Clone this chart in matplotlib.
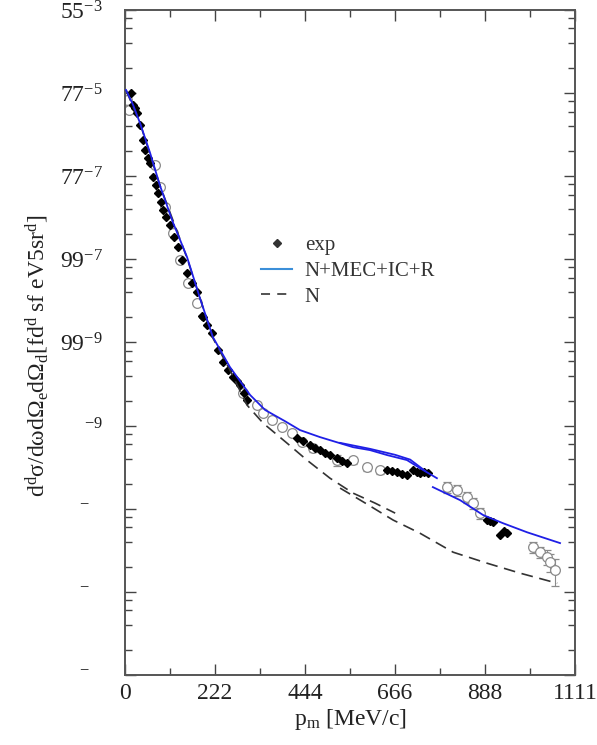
import matplotlib
matplotlib.use("Agg")
import matplotlib.pyplot as plt
from matplotlib.lines import Line2D
from matplotlib.ticker import FixedLocator, FixedFormatter, NullFormatter

plt.rcParams['font.family'] = ['Liberation Serif', 'DejaVu Serif']
plt.rcParams['mathtext.fontset'] = 'custom'
plt.rcParams['mathtext.rm'] = 'Liberation Serif'
plt.rcParams['mathtext.it'] = 'Liberation Serif:italic'

# filled diamonds (exp), several kinematic sets
exp1_x = [15, 20, 25, 30, 37, 44, 49, 57, 62, 69, 77, 82, 89, 94, 101, 111, 121, 131, 141, 153,
          165, 178, 190, 193, 202, 215, 230, 242, 254, 267, 277, 284, 294, 301]
exp1_y = [1.0e-4, 7.2e-5, 6.6e-5, 5.75e-5, 4.1e-5, 2.7e-5, 2.07e-5, 1.65e-5, 1.44e-5, 9.8e-6,
          7.8e-6, 6.3e-6, 4.9e-6, 3.9e-6, 3.23e-6, 2.6e-6, 1.85e-6, 1.4e-6, 9.8e-7, 6.8e-7,
          5.2e-7, 4.0e-7, 2.1e-7, 2.0e-7, 1.62e-7, 1.3e-7, 8.1e-8, 5.8e-8, 4.66e-8, 3.8e-8,
          3.43e-8, 3.07e-8, 2.46e-8, 2.03e-8]
exp2_x = [425, 439, 457, 469, 481, 494, 506, 523, 536, 548]
exp2_y = [7.1e-9, 6.5e-9, 5.8e-9, 5.36e-9, 5.07e-9, 4.67e-9, 4.42e-9, 4.06e-9, 3.74e-9, 3.54e-9]
exp3_x = [647, 659, 672, 684, 696, 711, 721, 728, 738, 748]
exp3_y = [2.92e-9, 2.84e-9, 2.76e-9, 2.61e-9, 2.54e-9, 2.92e-9, 2.76e-9, 2.68e-9, 2.76e-9, 2.68e-9]
exp4_x = [894, 901, 909, 926, 936, 943]
exp4_y = [7.3e-10, 7.1e-10, 6.9e-10, 4.8e-10, 5.4e-10, 5.1e-10]

# open circles (other data sets) with relative errors
open1_x = [5, 10, 74, 86, 99, 118, 136, 156, 178, 291, 326, 341, 363, 388, 412, 437, 464, 523, 563, 597, 630]
open1_y = [8.3e-5, 6.3e-5, 1.36e-5, 7.4e-6, 4.26e-6, 2.07e-6, 9.8e-7, 5.2e-7, 2.98e-7, 2.46e-8, 1.77e-8,
           1.41e-8, 1.16e-8, 9.6e-9, 8.1e-9, 6.3e-9, 5.36e-9, 3.85e-9, 3.85e-9, 3.17e-9, 2.92e-9]
open1_err = [0.05, 0.05, 0.05, 0.05, 0.05, 0.05, 0.05, 0.05, 0.05, 0.08, 0.08,
             0.08, 0.08, 0.08, 0.08, 0.08, 0.1, 0.15, 0.1, 0.1, 0.1]
open2_x = [795, 820, 844, 859, 876]
open2_y = [1.82e-9, 1.67e-9, 1.38e-9, 1.17e-9, 8.85e-10]
open2_err = [0.15, 0.15, 0.15, 0.15, 0.15]
open3_x = [1007, 1025, 1042, 1049, 1062]
open3_y = [3.45e-10, 3.0e-10, 2.62e-10, 2.28e-10, 1.82e-10]
open3_err = [0.15, 0.15, 0.2, 0.25, 0.35]

# N+MEC+IC+R
full1_x = [2.5, 20, 37, 62, 86, 118, 153, 185, 217, 259, 309, 346, 395, 432, 481, 563, 605, 647, 696, 728, 770]
full1_y = [1.09e-4, 7.2e-5, 4.37e-5, 1.9e-5, 7.8e-6, 2.81e-6, 1.07e-6, 3.42e-7, 1.16e-7, 5.06e-8, 2.33e-8,
           1.54e-8, 1.13e-8, 8.83e-9, 7.28e-9, 5.5e-9, 5.07e-9, 4.42e-9, 3.85e-9, 3.08e-9, 2.33e-9]
full2_x = [531, 605, 667, 704, 741]
full2_y = [6.2e-9, 5.25e-9, 4.45e-9, 3.9e-9, 2.85e-9]
full3_x = [760, 827, 884, 933, 993, 1074]
full3_y = [1.82e-9, 1.27e-9, 8.4e-10, 6.7e-10, 5.2e-10, 3.86e-10]

# N only
n1_x = [2.5, 37, 86, 153, 217, 259, 301, 341, 400, 449, 506, 563, 617, 667]
n1_y = [1.09e-4, 4.37e-5, 7.8e-6, 1.04e-6, 1.13e-7, 4.66e-8, 1.77e-8, 1.07e-8, 6.15e-9, 3.85e-9,
        2.33e-9, 1.54e-9, 1.17e-9, 8.85e-10]
n2_x = [531, 593, 662, 728, 810, 894, 975, 1067]
n2_y = [1.77e-9, 1.17e-9, 7.3e-10, 5.08e-10, 3.0e-10, 2.21e-10, 1.68e-10, 1.27e-10]

xticks = [0, 222, 444, 666, 888, 1111]
yticks = [1e-3, 1e-4, 1e-5, 1e-6, 1e-7, 1e-8, 1e-9, 1e-10, 1e-11]
ytick_labels = ['55$^{-3}$', '77$^{-5}$', '77$^{-7}$', '99$^{-7}$', '99$^{-9}$', '$^{-9}$',
                '$^{-}$   ', '$^{-}$   ', '$^{-}$   ']

fig = plt.figure(figsize=(5.97, 7.45), dpi=100)
ax = fig.add_axes([0.2094, 0.094, 0.7538, 0.8926])
ax.set_yscale('log')

gray = '#8a8a8a'
for xs, ys, er in [(open1_x, open1_y, open1_err), (open2_x, open2_y, open2_err), (open3_x, open3_y, open3_err)]:
    yerr = [[y * e for y, e in zip(ys, er)], [y * e for y, e in zip(ys, er)]]
    ax.errorbar(xs, ys, yerr=yerr, fmt='o', ms=7, mfc='white', mec=gray, mew=0.9,
                ecolor=gray, elinewidth=0.8, capsize=3, zorder=2)

for xs, ys in [(exp1_x, exp1_y), (exp2_x, exp2_y), (exp3_x, exp3_y), (exp4_x, exp4_y)]:
    ax.plot(xs, ys, 'D', ms=4.5, color='black', zorder=3)

for xs, ys in [(n1_x, n1_y), (n2_x, n2_y)]:
    ax.plot(xs, ys, color='#333333', lw=1.2, dashes=(7, 4), zorder=4)

for xs, ys in [(full1_x, full1_y), (full2_x, full2_y), (full3_x, full3_y)]:
    ax.plot(xs, ys, color='#1f1fe6', lw=1.3, zorder=5)

ax.set_xlim(0, 1111)
ax.set_ylim(1e-11, 1e-3)

ax.xaxis.set_major_locator(FixedLocator(xticks))
ax.xaxis.set_minor_locator(FixedLocator([111, 333, 555, 777, 999]))
ax.set_xticklabels([str(t) for t in xticks])
ax.yaxis.set_major_locator(FixedLocator(yticks))
ax.yaxis.set_major_formatter(FixedFormatter(ytick_labels))
minor_y = [m * 10.0 ** e for e in range(-11, -3) for m in (2, 4, 6, 8)]
ax.yaxis.set_minor_locator(FixedLocator(minor_y))
ax.yaxis.set_minor_formatter(NullFormatter())

ax.tick_params(which='both', direction='in', top=True, right=True, colors='#444444',
               labelcolor='#222222', labelsize=17)
ax.tick_params(which='major', length=8, width=1.0)
ax.tick_params(which='minor', length=5, width=1.0)
ax.tick_params(axis='y', pad=16)
ax.tick_params(axis='x', pad=6)
for s in ax.spines.values():
    s.set_color('#555555')
    s.set_linewidth(1.4)

ax.set_xlabel('p$_{\\rm m}$ [MeV/c]', fontsize=17, color='#222222', labelpad=2)
ax.set_ylabel('d$^{\\rm d}$σ/dωdΩ$_{\\rm e}$dΩ$_{\\rm d}$[fd$^{\\rm d}$ sf eV5sr$^{\\rm d}$]',
              fontsize=17, color='#222222', labelpad=6)
ax.yaxis.set_label_coords(-0.165, 0.48)

handles = [Line2D([], [], marker='D', ls='none', ms=4.5, color='#333333'),
           Line2D([], [], color='#3b8fd9', lw=1.5),
           Line2D([], [], color='#444444', lw=1.3, dashes=(5, 4))]
fig.legend(handles, ['exp', 'N+MEC+IC+R', 'N'], loc='upper left',
           bbox_to_anchor=(0.437, 0.684), frameon=False, fontsize=15,
           handlelength=1.5, handletextpad=0.6, labelspacing=0.3,
           borderpad=0, borderaxespad=0, labelcolor='#333333')

fig.savefig('out.png', dpi=100)
